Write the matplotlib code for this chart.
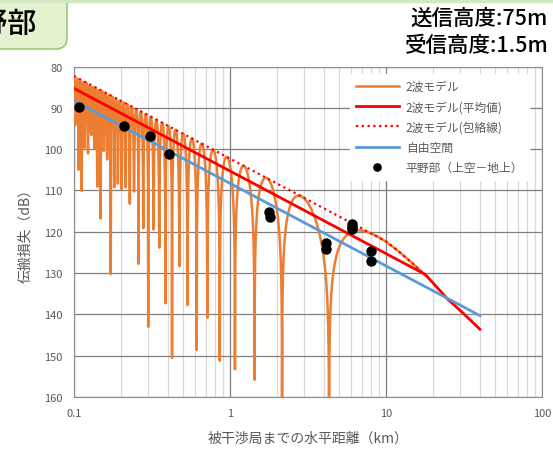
import numpy as np
import matplotlib.pyplot as plt
from matplotlib.patches import FancyBboxPatch

plt.rcParams['font.family'] = ['Noto Sans CJK JP', 'DejaVu Sans']

# antenna heights (m) and carrier frequency of the two-ray model
tx_height = 75.0
rx_height = 1.5
freq_ghz = 5.75

# free-space loss (distance km, dB)
free_d = [0.1, 40.0]
free_db = [88.3, 140.3]

# two-ray average
avg_d = [0.1, 17.8, 25.0, 30.0, 40.0]
avg_db = [85.3, 130.3, 136.4, 139.1, 143.6]

# two-ray envelope
env_d = [0.1, 8.6, 10.0, 12.0, 15.0, 17.8]
env_db = [82.3, 121.0, 122.3, 124.7, 127.9, 130.5]

# measured points, plain (sky - ground)
meas_d = [0.107, 0.21, 0.309, 0.408, 1.79, 1.81, 4.11, 4.11, 6.02, 6.02, 6.02, 7.99, 7.99]
meas_db = [89.9, 94.3, 96.9, 101.3, 115.3, 116.4, 122.8, 124.2, 118.1, 118.8, 119.4, 124.6, 127.0]

# two-ray curve sampled every metre out to the last lobe
dist_m = np.arange(100.0, 17800.0, 1.0)
lam = 0.299792458 / freq_ghz
r1 = np.sqrt(dist_m ** 2 + (tx_height - rx_height) ** 2)
r2 = np.sqrt(dist_m ** 2 + (tx_height + rx_height) ** 2)
gain = np.abs(1 - (r1 / r2) * np.exp(-2j * np.pi * (r2 - r1) / lam))
fs_db = np.interp(np.log10(dist_m / 1000), np.log10(free_d), free_db)
two_ray_db = fs_db - 20 * np.log10(np.maximum(gain, 1e-6))

fig = plt.figure(figsize=(5.53, 4.52), dpi=100)
ax = fig.add_axes([74 / 553, 54 / 452, 468 / 553, 330.5 / 452])

ax.plot(dist_m / 1000, two_ray_db, color='#ED7D31', lw=1.8, label='2波モデル', zorder=3)
ax.plot(avg_d, avg_db, color='#FF0000', lw=2.0, label='2波モデル(平均値)', zorder=4)
ax.plot(env_d, env_db, color='#FF0000', lw=1.6, ls=(0, (1, 1.6)), label='2波モデル(包絡線)', zorder=4)
ax.plot(free_d, free_db, color='#5B9BD5', lw=2.0, label='自由空間', zorder=4)
ax.plot(meas_d, meas_db, 'o', color='black', ms=6.5, label='平野部（上空－地上）', zorder=5)

ax.set_xscale('log')
ax.set_xlim(0.1, 100)
ax.set_ylim(160, 80)
ax.set_yticks(range(80, 161, 10))
ax.set_xticks([0.1, 1, 10, 100])
ax.set_xticklabels(['0.1', '1', '10', '100'])
ax.grid(True, which='major', color='#7f7f7f', lw=0.9)
ax.grid(True, which='minor', axis='x', color='#d9d9d9', lw=0.9)
ax.tick_params(which='both', length=0, labelsize=8, labelcolor='#595959', pad=8)
for s in ax.spines.values():
    s.set_color('#8c8c8c')

ax.set_xlabel('被干渉局までの水平距離（km）', fontsize=10, color='#595959', labelpad=9)
ax.set_ylabel('伝搬損失（dB）', fontsize=10, color='#595959', labelpad=9)

leg = ax.legend(loc='upper right', bbox_to_anchor=(0.985, 0.995), fontsize=8.5,
                frameon=True, fancybox=False, framealpha=1, edgecolor='white',
                handlelength=3.6, handletextpad=0.6, labelspacing=0.62,
                borderpad=0.5, markerscale=0.8)
for t in leg.get_texts():
    t.set_color('#595959')

fig.text(0.99, 0.958, '送信高度:75m', ha='right', va='center', fontsize=15.5, fontweight='medium')
fig.text(0.99, 0.899, '受信高度:1.5m', ha='right', va='center', fontsize=15.5, fontweight='medium')

# green title tag, running off the left edge
fig.add_artist(plt.Line2D([0, 1], [0.996, 0.996], color='#d5e8c4', lw=2.5))
fig.add_artist(FancyBboxPatch((-60 / 553, 402 / 452), 127 / 553, 70 / 452,
                              boxstyle='round,pad=0,rounding_size=0.02',
                              transform=fig.transFigure, facecolor='#e4f3cf',
                              edgecolor='#9cc77a', lw=1.2, mutation_aspect=553 / 452))
fig.text(37 / 553, 1 - 24 / 452, '平野部', ha='right', va='center', fontsize=21,
         fontweight='medium', color='black')

fig.savefig('out.png', dpi=100)
